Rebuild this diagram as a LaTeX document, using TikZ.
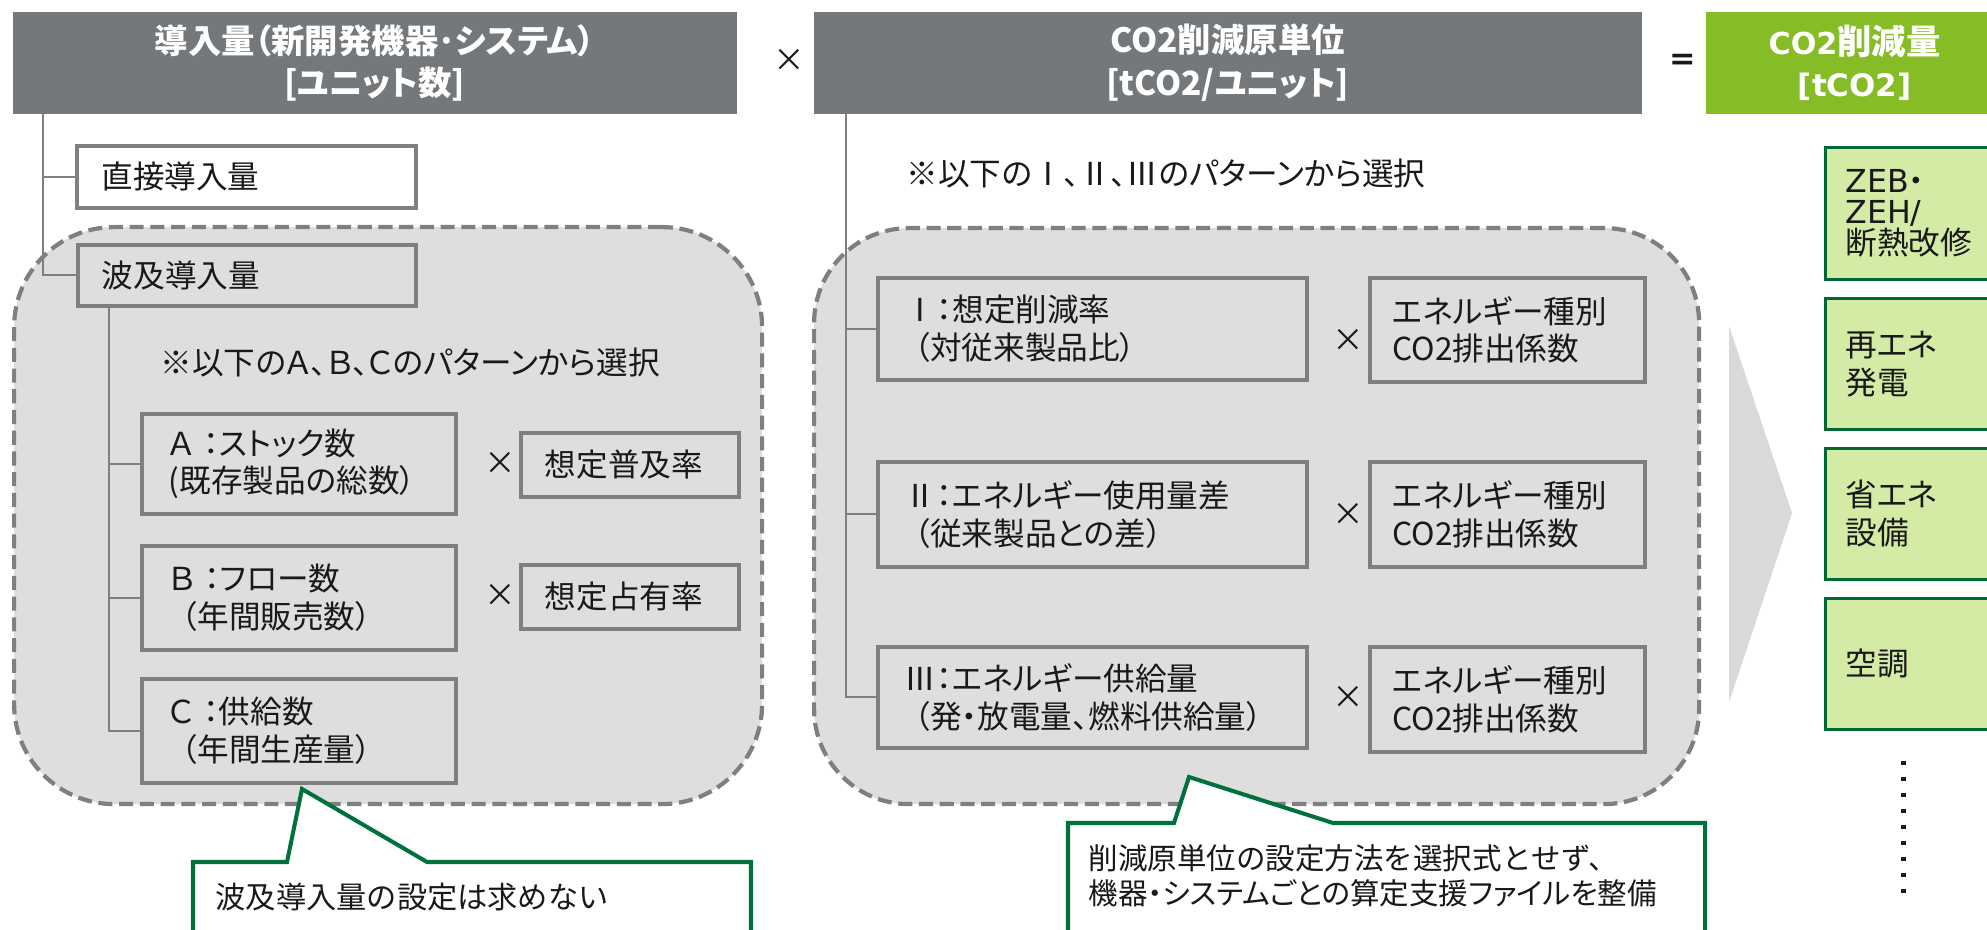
\documentclass[tikz,border=0pt]{standalone}
\usepackage{fontspec}
\newfontfamily\cjk[RawFeature=+palt]{Noto Sans CJK JP}
\newfontfamily\cjkn{Noto Sans CJK JP}
\newfontfamily\dv{DejaVu Sans}
\definecolor{hdrgray}{RGB}{117,120,123}
\definecolor{hdrgreen}{RGB}{134,188,37}
\definecolor{regfill}{RGB}{222,222,222}
\definecolor{boxline}{RGB}{127,127,127}
\definecolor{gfill}{RGB}{212,235,166}
\definecolor{gline}{RGB}{0,104,52}
\definecolor{cgreen}{RGB}{0,112,60}
\definecolor{arrowfill}{RGB}{217,217,217}
\definecolor{txt}{RGB}{25,25,25}
\begin{document}
\begin{tikzpicture}[x=0.1mm,y=-0.1mm,
  hdr/.style={fill=#1, text=white, anchor=north west, inner sep=0pt, align=center,
    minimum height=10.2mm, font=\cjk\bfseries\fontsize{9.5}{12}\selectfont},
  region/.style={fill=regfill, draw=boxline, line width=1.2pt, dash pattern=on 4pt off 1.9pt,
    anchor=north west, inner sep=0pt},
  pbox/.style={draw=boxline, line width=1.1pt, fill=regfill, anchor=north west, inner ysep=0pt,
    align=left, text=txt, font=\cjk\fontsize{9}{10.7}\selectfont},
  gbox/.style={draw=gline, line width=0.8pt, fill=gfill, anchor=north west, inner ysep=0pt,
    inner xsep=1.6mm, minimum width=18mm, text width=14mm, minimum height=13.1mm,
    align=left, text=txt, font=\cjk\fontsize{9}{10.8}\selectfont},
  ntext/.style={anchor=west, inner sep=0pt, text=txt, font=\cjk\fontsize{9}{10.7}\selectfont},
  op/.style={inner sep=0pt, text=txt, font=\cjk\fontsize{9}{10}\selectfont},
  conn/.style={draw=boxline, line width=0.6pt},
  callout/.style={fill=white, draw=cgreen, line width=1.15pt, line join=miter},
  ctext/.style={anchor=west, inner sep=0pt, align=left, text=txt, font=\cjkn\fontsize{8.4}{10}\selectfont}
]
\useasboundingbox (0,0) rectangle (1987,930);
\clip (0,0) rectangle (1987,930);

% headers
\node[hdr=hdrgray, minimum width=72.4mm] (hdrA) at (12,11) {導入量（新開発機器･システム）\\{[ユニット数]}};
\node[op] (x1) at (789,60) {×};
\node[hdr=hdrgray, minimum width=82.8mm] (hdrB) at (813,11) {CO2削減原単位\\{[tCO2/ユニット]}};
\node[op, font=\dv\bfseries\fontsize{9}{10}\selectfont] (eq) at (1683,62) {=};
\node[hdr=hdrgreen, minimum width=29.8mm, font=\cjk\bfseries\fontsize{9.8}{12}\selectfont] (hdrC) at (1705,11)
  {{\dv\bfseries\fontsize{8.6}{12}\selectfont CO2}削減量\\{\dv\bfseries\fontsize{8.8}{12}\selectfont [tCO2]}};

% regions
\node[region, rounded corners=10mm, minimum width=74.8mm, minimum height=57.7mm] (regL) at (12,225) {};
\node[region, rounded corners=9.5mm, minimum width=88.5mm, minimum height=57.6mm] (regM) at (812,226) {};

% left column
\node[pbox, fill=white, minimum width=33.9mm, minimum height=6.2mm, inner xsep=2.2mm, text width=29mm] (direct) at (75,144) {直接導入量};
\node[pbox, minimum width=33.8mm, minimum height=6.1mm, inner xsep=2.1mm, text width=29mm] (hakyu) at (76,243) {波及導入量};
\node[ntext] (note1) at (160,363) {※以下のＡ、Ｂ、Ｃのパターンから選択};
\node[pbox, minimum width=31.4mm, minimum height=10mm, inner xsep=2.4mm, text width=26mm] (A) at (140,412)
  {Ａ\hspace{0.3em}：ストック数\\(既存製品の総数）};
\node[pbox, minimum width=31.4mm, minimum height=10.4mm, inner xsep=2.4mm, text width=26mm] (B) at (140,544)
  {Ｂ\hspace{0.3em}：フロー数\\\hspace{0.4em}（年間販売数）};
\node[pbox, minimum width=31.4mm, minimum height=10.4mm, inner xsep=2.4mm, text width=26mm] (C) at (140,677)
  {Ｃ\hspace{0.3em}：供給数\\\hspace{0.4em}（年間生産量）};
\node[op] (xA) at (500,463) {×};
\node[op] (xB) at (500,595) {×};
\node[pbox, minimum width=21.8mm, minimum height=6.4mm, inner xsep=2.2mm, text width=17mm] (fA) at (519,431) {想定普及率};
\node[pbox, minimum width=21.8mm, minimum height=6.4mm, inner xsep=2.2mm, text width=17mm] (fB) at (519,563) {想定占有率};

% middle column
\node[ntext] (note2) at (906,174) {※以下のⅠ、Ⅱ、Ⅲのパターンから選択};
\node[pbox, minimum width=42.9mm, minimum height=10.2mm, inner xsep=2.4mm, text width=37.5mm] (P1) at (876,276)
  {Ⅰ：想定削減率\\\hspace{0.3em}（対従来製品比）};
\node[pbox, minimum width=42.9mm, minimum height=10.5mm, inner xsep=2.4mm, text width=37.5mm] (P2) at (876,460)
  {Ⅱ：エネルギー使用量差\\\hspace{0.3em}（従来製品との差）};
\node[pbox, minimum width=42.9mm, minimum height=10.1mm, inner xsep=2.4mm, text width=37.5mm] (P3) at (876,645)
  {Ⅲ：エネルギー供給量\\\hspace{0.3em}（発・放電量、燃料供給量）};
\node[pbox, minimum width=27.5mm, minimum height=10.4mm, inner xsep=1.8mm, text width=23mm] (E1) at (1368,276)
  {エネルギー種別\\CO2排出係数};
\node[pbox, minimum width=27.5mm, minimum height=10.5mm, inner xsep=1.8mm, text width=23mm] (E2) at (1368,460)
  {エネルギー種別\\CO2排出係数};
\node[pbox, minimum width=27.5mm, minimum height=10.5mm, inner xsep=1.8mm, text width=23mm] (E3) at (1368,645)
  {エネルギー種別\\CO2排出係数};
\node[op] (xP1) at (1348,340) {×};
\node[op] (xP2) at (1348,514) {×};
\node[op] (xP3) at (1348,697) {×};

% connectors
\coordinate (tA) at ([xshift=3.1mm]hdrA.south west);
\coordinate (tH) at ([xshift=3.3mm]hakyu.south west);
\coordinate (tB) at ([xshift=3.3mm]hdrB.south west);
\draw[conn] (tA) |- (direct.west);
\draw[conn] (tA) |- (hakyu.west);
\draw[conn] (tH) |- (A.west);
\draw[conn] (tH) |- (B.west);
\draw[conn] (tH) |- (C.west);
\draw[conn] (tB) |- (P1.west);
\draw[conn] (tB) |- (P2.west);
\draw[conn] (tB) |- (P3.west);

% big arrow
\fill[arrowfill] (1729,326) -- (1792,513) -- (1729,702) -- cycle;

% right column
\node[gbox, minimum height=13.2mm, font=\cjk\fontsize{9}{8.8}\selectfont] (g1) at (1824,146)
  {{\dv ZEB}・\\{\dv ZEH/}\\断熱改修};
\node[gbox] (g2) at (1824,297) {再エネ\\発電};
\node[gbox] (g3) at (1824,447) {省エネ\\設備};
\node[gbox] (g4) at (1824,597) {空調};
\foreach \i in {0,...,8} \fill[txt] (1901,761+16*\i) rectangle ++(4.5,4.5);

% callouts
\draw[callout] (193,940) -- (193,862) -- (287,862) -- (302,789) -- (427,862) -- (751,862) -- (751,940);
\node[ctext, font=\cjkn\fontsize{8.6}{10}\selectfont] (c1t) at (215,897) {波及導入量の設定は求めない};
\draw[callout] (1068,940) -- (1068,823) -- (1174,823) -- (1189,777) -- (1333,823) -- (1705,823) -- (1705,940);
\node[ctext] (c2t) at (1088,876) {削減原単位の設定方法を選択式とせず、\\{\cjk 機器・システムごとの算定支援ファイルを整備}};
\end{tikzpicture}
\end{document}
